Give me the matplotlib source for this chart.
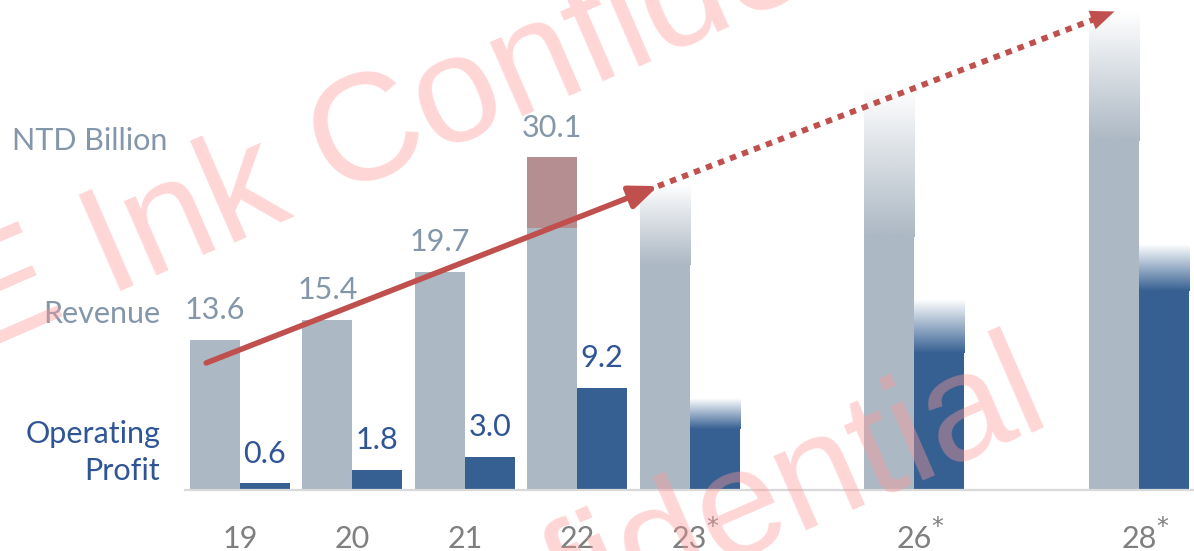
import numpy as np
import matplotlib
matplotlib.use("Agg")
import matplotlib.pyplot as plt
from matplotlib.patches import FancyArrowPatch
from matplotlib.colors import to_rgb

# data
years = ["19", "20", "21", "22", "23", "26", "28"]
forecast = [False, False, False, False, True, True, True]
revenue = [13.6, 15.4, 19.7, 30.1, 27.8, 36.4, 43.3]
profit = [0.6, 1.8, 3.0, 9.2, 8.3, 17.2, 22.2]
one_off = [0, 0, 0, 6.4, 0, 0, 0]   # part of 22 revenue shown in red

# layout / style
slots = [0, 1, 2, 3, 4, 6, 8]
rev_fade = [0, 0, 0, 0, 7.4, 13.5, 11.7]
prof_fade = [0, 0, 0, 0, 2.8, 4.8, 4.2]
W = 0.445
REV_C = "#ACB8C4"
PROF_C = "#366092"
ONEOFF_C = "#B48E90"
ARROW_C = "#C0504D"
REV_TXT = "#8497AA"
PROF_TXT = "#2F5597"
TICK_TXT = "#7F7F7F"
FS = 22

plt.rcParams["font.family"] = ["Lato", "DejaVu Sans"]

fig = plt.figure(figsize=(11.94, 5.51), dpi=100)
ax = fig.add_axes([0, 0, 1, 1])
ax.axis("off")


def fading_bar(ax, x0, h, fade, color):
    solid = h - fade
    ax.bar(x0, solid, width=W, align="edge", color=color, linewidth=0)
    if fade > 0:
        rgb = to_rgb(color)
        n = 100
        img = np.zeros((n, 1, 4))
        img[:, 0, :3] = rgb
        img[:, 0, 3] = np.linspace(0, 1, n)  # row 0 = top
        ax.imshow(img, extent=[x0, x0 + W, solid, h], aspect="auto",
                  interpolation="bilinear", zorder=2)


for i, yr in enumerate(years):
    c = slots[i]
    base_rev = revenue[i] - one_off[i]
    fading_bar(ax, c - W, base_rev, rev_fade[i], REV_C)
    if one_off[i] > 0:
        ax.bar(c - W, one_off[i], bottom=base_rev, width=W, align="edge",
               color=ONEOFF_C, linewidth=0)
    fading_bar(ax, c, profit[i], prof_fade[i], PROF_C)

    if not forecast[i]:
        ax.annotate(f"{revenue[i]:.1f}", xy=(c - W / 2, revenue[i]), xytext=(0, 15),
                    textcoords="offset points", ha="center", va="baseline",
                    fontsize=FS, color=REV_TXT)
        ax.annotate(f"{profit[i]:.1f}", xy=(c + W / 2, profit[i]), xytext=(0, 15),
                    textcoords="offset points", ha="center", va="baseline",
                    fontsize=FS, color=PROF_TXT)

    ax.text(c, -5.25, yr, ha="center", va="baseline", fontsize=FS, color=TICK_TXT)
    if forecast[i]:
        ax.annotate("*", xy=(c, -5.25), xytext=(12, 10), textcoords="offset points",
                    ha="left", va="baseline", fontsize=17, color=TICK_TXT,
                    family="DejaVu Sans")

# baseline
ax.plot([-0.49, 8.49], [0, 0], color="#D9D9D9", lw=1.6, zorder=1)

# side labels
ax.text(-0.65, 30.8, "NTD Billion", ha="right", va="baseline", fontsize=FS, color=REV_TXT)
ax.text(-0.71, 15.1, "Revenue", ha="right", va="baseline", fontsize=FS, color=REV_TXT)
ax.text(-0.71, 4.25, "Operating", ha="right", va="baseline", fontsize=FS, color=PROF_TXT)
ax.text(-0.71, 0.9, "Profit", ha="right", va="baseline", fontsize=FS, color=PROF_TXT)

# trend arrows
p0 = (slots[0] - 0.3, revenue[0] - 2.1)
p1 = (slots[4] - 0.28, revenue[4] - 0.3)
p2 = (slots[6] - 0.22, revenue[6])
ax.add_patch(FancyArrowPatch(p0, p1, arrowstyle="-|>,head_length=17,head_width=7",
                             color=ARROW_C, lw=4, shrinkA=0, shrinkB=0, zorder=5))
d = np.array(p2) - np.array(p1)
head_base = np.array(p2) - d * 0.04
ax.plot([p1[0], head_base[0]], [p1[1], head_base[1]], color=ARROW_C, lw=4.2,
        dashes=(1.1, 1.1), solid_capstyle="butt", dash_capstyle="butt", zorder=5)
ax.add_patch(FancyArrowPatch(tuple(head_base - d * 0.01), p2,
                             arrowstyle="-|>,head_length=17,head_width=7",
                             color=ARROW_C, lw=0.1, shrinkA=0, shrinkB=0, zorder=5))

ax.set_xlim(-2.135, 8.488)
ax.set_ylim(-5.52, 44.34)

# watermark
for px, py in [(-25, 353), (-45, 899)]:
    fig.text(px / 1194, 1 - py / 551, "E Ink Confidential", rotation=23.5,
             rotation_mode="anchor", ha="left", va="baseline", fontsize=110,
             family="Liberation Sans", color=(1, 0.6, 0.6), alpha=0.4, zorder=10)

fig.savefig("out.png", dpi=100)
